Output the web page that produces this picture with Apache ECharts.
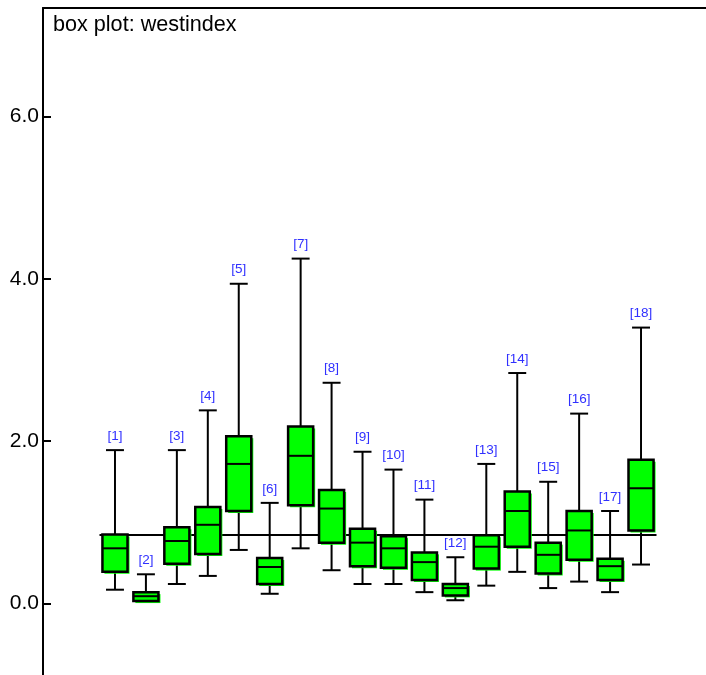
<!DOCTYPE html>
<html>
<head>
<meta charset="utf-8">
<title>box plot: westindex</title>
<script src="https://cdn.jsdelivr.net/npm/echarts@6/dist/echarts.min.js"></script>
<style>
  html, body { margin: 0; padding: 0; background: #ffffff; }
  #chart { width: 706px; height: 675px; }
</style>
</head>
<body>
<div id="chart"></div>
<script>
// Node labels shown above each box
const categories = ['[1]', '[2]', '[3]', '[4]', '[5]', '[6]', '[7]', '[8]', '[9]',
  '[10]', '[11]', '[12]', '[13]', '[14]', '[15]', '[16]', '[17]', '[18]'];

// Five-number summaries of westindex per node
const lowerWhisker = [0.17, 0.02, 0.24, 0.34, 0.66, 0.12, 0.68, 0.41, 0.24, 0.24, 0.14, 0.04, 0.22, 0.39, 0.19, 0.27, 0.14, 0.48];
const lowerQuartile = [0.39, 0.03, 0.49, 0.61, 1.14, 0.24, 1.21, 0.75, 0.46, 0.44, 0.29, 0.10, 0.43, 0.70, 0.37, 0.54, 0.29, 0.90];
const medians = [0.68, 0.09, 0.77, 0.97, 1.72, 0.45, 1.82, 1.17, 0.75, 0.68, 0.51, 0.19, 0.70, 1.14, 0.60, 0.90, 0.46, 1.42];
const upperQuartile = [0.85, 0.14, 0.94, 1.19, 2.06, 0.56, 2.18, 1.40, 0.92, 0.83, 0.63, 0.24, 0.84, 1.38, 0.75, 1.14, 0.55, 1.77];
const upperWhisker = [1.89, 0.36, 1.89, 2.38, 3.94, 1.24, 4.25, 2.72, 1.87, 1.65, 1.28, 0.57, 1.72, 2.84, 1.50, 2.34, 1.14, 3.40];

// Overall mean, drawn as a reference line across all boxes
const overallMean = 0.848;

// Y-axis tick labels
const yTicks = [0, 2, 4, 6];

const fontFamily = '"Liberation Sans", Arial, Helvetica, sans-serif';

const boxData = categories.map((c, i) => [
  i, lowerWhisker[i], lowerQuartile[i], medians[i], upperQuartile[i], upperWhisker[i]
]);

const Y_MIN = -0.881;
const Y_MAX = 7.338;

function renderBox(params, api) {
  const i = api.value(0);
  const lo = api.coord([i, api.value(1)]);
  const q1 = api.coord([i, api.value(2)]);
  const md = api.coord([i, api.value(3)]);
  const q3 = api.coord([i, api.value(4)]);
  const hi = api.coord([i, api.value(5)]);
  const band = api.size([1, 0])[0];
  const cx = lo[0];
  const boxW = band * 0.81;
  const capW = band * 0.58;
  const line = { stroke: '#000', lineWidth: 2 };
  const children = [
    // whiskers and caps
    { type: 'line', shape: { x1: cx, y1: q3[1], x2: cx, y2: hi[1] }, style: line },
    { type: 'line', shape: { x1: cx, y1: q1[1], x2: cx, y2: lo[1] }, style: line },
    { type: 'line', shape: { x1: cx - capW / 2, y1: hi[1], x2: cx + capW / 2, y2: hi[1] }, style: line },
    { type: 'line', shape: { x1: cx - capW / 2, y1: lo[1], x2: cx + capW / 2, y2: lo[1] }, style: line },
    // offset green shade behind the box
    { type: 'rect', shape: { x: cx - boxW / 2 + 2, y: q3[1] + 2, width: boxW, height: q1[1] - q3[1] },
      style: { fill: '#00ff00', stroke: null } },
    // box
    { type: 'rect', shape: { x: cx - boxW / 2, y: q3[1], width: boxW, height: q1[1] - q3[1] },
      style: { fill: '#00ff00', stroke: '#000', lineWidth: 2.5 } },
    // median
    { type: 'line', shape: { x1: cx - boxW / 2, y1: md[1], x2: cx + boxW / 2, y2: md[1] }, style: line },
    // node label
    { type: 'text', x: cx, y: hi[1] - 14,
      style: { text: categories[i], fill: '#3030ff', font: '13.5px ' + fontFamily,
               align: 'center', verticalAlign: 'middle' } }
  ];
  return { type: 'group', children };
}

const chart = echarts.init(document.getElementById('chart'), null, { renderer: 'canvas' });

chart.setOption({
  backgroundColor: '#ffffff',
  animation: false,
  title: {
    text: 'box plot: westindex',
    left: 53,
    top: 14,
    padding: 0,
    textStyle: { fontFamily, fontSize: 21.6, fontWeight: 'normal', color: '#000' }
  },
  grid: [
    { left: 43, right: 0, top: 8, bottom: 0, containLabel: false },
    { left: 99.5, width: 557, top: 8, bottom: 0, containLabel: false }
  ],
  xAxis: [
    {
      gridIndex: 0, type: 'value', position: 'top', min: 0, max: 1,
      axisLine: { show: true, onZero: false, lineStyle: { color: '#000', width: 2 } },
      axisTick: { show: false }, axisLabel: { show: false }, splitLine: { show: false }
    },
    {
      gridIndex: 1, type: 'category', data: categories, show: false, boundaryGap: true
    }
  ],
  yAxis: [
    {
      gridIndex: 0, type: 'value', min: Y_MIN, max: Y_MAX,
      axisLine: { show: true, onZero: false, lineStyle: { color: '#000', width: 2 } },
      axisTick: { show: true, inside: true, length: 8, lineStyle: { color: '#000', width: 2 },
                  customValues: yTicks },
      axisLabel: { show: true, margin: 4, color: '#000', fontFamily, fontSize: 21,
                   customValues: yTicks, formatter: v => v.toFixed(1) },
      splitLine: { show: false }
    },
    {
      gridIndex: 1, type: 'value', min: Y_MIN, max: Y_MAX, show: false, splitLine: { show: false }
    }
  ],
  series: [
    {
      type: 'line',
      xAxisIndex: 1, yAxisIndex: 1,
      data: [],
      z: 1,
      markLine: {
        silent: true,
        symbol: 'none',
        z: 1,
        label: { show: false },
        lineStyle: { color: '#000', width: 2, type: 'solid' },
        data: [{ yAxis: overallMean }]
      }
    },
    {
      type: 'custom',
      xAxisIndex: 1, yAxisIndex: 1,
      z: 10,
      renderItem: renderBox,
      data: boxData
    }
  ]
});
</script>
</body>
</html>
